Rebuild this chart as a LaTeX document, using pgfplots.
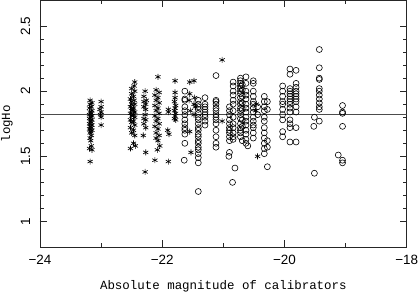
\documentclass[border=0pt]{standalone}
\usepackage{fontspec}
\setmainfont{Liberation Sans}
\newfontfamily\monofont{Liberation Mono}
\usepackage{pgfplots}
\pgfplotsset{compat=1.18}
\newcommand{\tkf}{\fontsize{13.5}{15}\selectfont}
\newcommand{\lbf}{\fontsize{12.5}{15}\selectfont\monofont}
\begin{document}
\begin{tikzpicture}
\begin{axis}[
  at={(0,0)}, anchor=south west,
  scale only axis,
  width=366.7bp, height=247.5bp,
  xmin=-24, xmax=-18, ymin=0.8, ymax=2.7,
  xtick={-24,-22,-20,-18},
  xticklabels={{\tkf −24},{\tkf −22},{\tkf −20},{\tkf −18}},
  ytick={1,1.5,2,2.5},
  yticklabels={{\tkf 1},{\tkf 1.5},{\tkf 2},{\tkf 2.5}},
  minor x tick num=1,
  minor y tick num=4,
  tick align=inside,
  major tick length=7bp,
  minor tick length=4bp,
  axis line style={line width=0.8pt, black!85},
  tick style={line width=0.7pt, black!85},
  xticklabel style={anchor=center, yshift=-12.5bp},
  yticklabel style={anchor=center, xshift=-14.5bp, rotate=90},
  xlabel={\lbf Absolute magnitude of calibrators},
  ylabel={\lbf logHo},
  every axis x label/.style={at={([yshift=-39bp]axis description cs:0.5,0)}, anchor=center},
  every axis y label/.style={at={([xshift=-33bp]axis description cs:0,0.5)}, anchor=center, rotate=90},
]
\addplot[gray!60!black, line width=0.9pt] coordinates {(-24,1.82) (-18,1.82)};
% asterisks
\addplot[only marks, mark=asterisk, mark size=3pt, mark options={line width=0.65pt, black}] coordinates {
(-23.18,1.93) (-23.15,1.91) (-23.18,1.90) (-23.16,1.88) (-23.19,1.87) (-23.15,1.85) (-23.18,1.84) (-23.16,1.83)
(-23.19,1.82) (-23.15,1.81) (-23.17,1.80) (-23.19,1.79) (-23.15,1.78) (-23.18,1.77) (-23.16,1.76) (-23.19,1.75)
(-23.15,1.74) (-23.18,1.73) (-23.16,1.72) (-23.19,1.71) (-23.15,1.70) (-23.17,1.69) (-23.18,1.68) (-23.16,1.66)
(-23.18,1.64) (-23.17,1.62) (-23.16,1.58) (-23.19,1.56) (-23.15,1.55) (-23.18,1.46)
(-23.0,1.92) (-23.0,1.88) (-23.02,1.86) (-23.0,1.84) (-23.01,1.82) (-23.0,1.80) (-23.0,1.74)
(-22.45,2.07) (-22.46,2.04) (-22.5,2.02) (-22.45,2.00) (-22.5,1.98) (-22.47,1.96) (-22.52,1.94) (-22.46,1.93)
(-22.5,1.92) (-22.45,1.90) (-22.52,1.88) (-22.47,1.87) (-22.5,1.85) (-22.45,1.84) (-22.52,1.83) (-22.47,1.82)
(-22.5,1.81) (-22.45,1.80) (-22.52,1.78) (-22.47,1.77) (-22.5,1.76) (-22.45,1.74) (-22.52,1.72) (-22.47,1.70)
(-22.5,1.68) (-22.45,1.66) (-22.47,1.60) (-22.44,1.58) (-22.52,1.56) (-22.5,1.90) (-22.48,1.86)
(-22.28,2.00) (-22.3,1.96) (-22.26,1.93) (-22.3,1.92) (-22.27,1.90) (-22.3,1.88) (-22.27,1.86) (-22.28,1.82)
(-22.3,1.79) (-22.27,1.78) (-22.3,1.75) (-22.27,1.72) (-22.31,1.66) (-22.27,1.53) (-22.28,1.38)
(-22.07,2.11) (-22.1,2.01) (-22.05,1.99) (-22.12,1.97) (-22.07,1.95) (-22.1,1.93) (-22.05,1.91) (-22.12,1.89)
(-22.07,1.87) (-22.1,1.85) (-22.05,1.83) (-22.12,1.81) (-22.07,1.79) (-22.1,1.77) (-22.05,1.75) (-22.12,1.73)
(-22.07,1.71) (-22.1,1.68) (-22.05,1.66) (-22.1,1.64) (-22.07,1.62) (-22.04,1.58) (-22.08,1.55) (-22.12,1.47)
(-21.9,1.86) (-21.9,1.84) (-21.91,1.70) (-21.89,1.67) (-21.9,1.46)
(-21.79,2.08) (-21.79,1.99) (-21.79,1.95) (-21.8,1.92) (-21.78,1.89) (-21.79,1.87) (-21.8,1.85) (-21.78,1.83)
(-21.79,1.81) (-21.8,1.79) (-21.78,1.78)
(-21.55,2.07) (-21.55,1.98) (-21.56,1.93) (-21.54,1.85) (-21.55,1.69) (-21.53,1.53)
(-21.48,2.08) (-21.47,1.95) (-21.48,1.90) (-21.46,1.88) (-21.48,1.82)
(-21.02,2.24) (-21.02,1.77)
(-20.44,1.50) (-20.46,1.90) (-20.47,1.85)
};
% circles
\addplot[only marks, mark=o, mark size=3pt, mark options={line width=0.6pt, black}] coordinates {
(-21.63,2.00) (-21.63,1.94) (-21.63,1.93) (-21.63,1.88) (-21.63,1.85) (-21.63,1.82) (-21.63,1.78) (-21.63,1.75)
(-21.63,1.72) (-21.63,1.70) (-21.63,1.67) (-21.63,1.60) (-21.64,1.47)
(-21.41,1.93) (-21.41,1.90) (-21.41,1.88) (-21.41,1.86) (-21.41,1.83) (-21.41,1.80) (-21.41,1.78) (-21.41,1.75)
(-21.41,1.72) (-21.41,1.70) (-21.41,1.67) (-21.41,1.65) (-21.41,1.62) (-21.41,1.60) (-21.41,1.57) (-21.41,1.55)
(-21.41,1.52) (-21.41,1.49) (-21.41,1.45) (-21.41,1.23)
(-21.30,1.95) (-21.30,1.90) (-21.30,1.88) (-21.30,1.86) (-21.30,1.84) (-21.30,1.82) (-21.30,1.80) (-21.30,1.77)
(-21.30,1.74)
(-21.12,2.12) (-21.12,1.93) (-21.12,1.92) (-21.12,1.90) (-21.12,1.87) (-21.12,1.85) (-21.12,1.82) (-21.12,1.80)
(-21.12,1.78) (-21.12,1.75) (-21.12,1.70) (-21.12,1.65) (-21.12,1.60) (-21.12,1.57)
(-20.90,1.88) (-20.90,1.85) (-20.90,1.82) (-20.90,1.78) (-20.90,1.75) (-20.90,1.72) (-20.90,1.70) (-20.90,1.68)
(-20.90,1.65) (-20.90,1.62) (-20.90,1.53) (-20.91,1.50)
(-20.84,2.07) (-20.84,2.04) (-20.84,2.00) (-20.84,1.97) (-20.84,1.93) (-20.84,1.90) (-20.84,1.85) (-20.84,1.80)
(-20.84,1.75) (-20.84,1.72) (-20.84,1.68) (-20.84,1.65) (-20.84,1.63) (-20.81,1.41) (-20.85,1.30)
(-20.72,2.10) (-20.72,2.08) (-20.72,2.06) (-20.72,2.04) (-20.72,2.02) (-20.72,2.00) (-20.72,1.98) (-20.72,1.95)
(-20.72,1.92) (-20.72,1.90) (-20.72,1.87) (-20.72,1.85) (-20.72,1.82) (-20.72,1.79) (-20.72,1.75) (-20.72,1.72)
(-20.72,1.70) (-20.72,1.68) (-20.72,1.65)
(-20.69,2.05) (-20.69,2.01) (-20.69,1.96) (-20.69,1.91) (-20.69,1.86) (-20.69,1.78) (-20.69,1.73) (-20.69,1.62)
(-20.63,2.11) (-20.63,2.06) (-20.63,2.00) (-20.63,1.97) (-20.63,1.94) (-20.63,1.90) (-20.63,1.87) (-20.63,1.84)
(-20.63,1.80) (-20.63,1.77) (-20.63,1.74) (-20.63,1.70) (-20.63,1.67) (-20.63,1.63) (-20.63,1.60) (-20.60,1.58)
(-20.51,2.08) (-20.51,2.06) (-20.51,2.00) (-20.51,1.96) (-20.51,1.92) (-20.51,1.90) (-20.51,1.87) (-20.51,1.84)
(-20.51,1.80) (-20.51,1.77) (-20.51,1.74) (-20.51,1.72) (-20.51,1.68) (-20.51,1.64)
(-20.44,1.88) (-20.44,1.82)
(-20.33,1.96) (-20.33,1.92) (-20.33,1.88) (-20.33,1.85) (-20.33,1.80) (-20.33,1.77) (-20.33,1.72) (-20.33,1.68)
(-20.33,1.64) (-20.33,1.60) (-20.33,1.56) (-20.33,1.52)
(-20.28,1.92) (-20.28,1.86) (-20.28,1.62) (-20.28,1.57) (-20.28,1.42)
(-20.03,2.04) (-20.03,2.00) (-20.03,1.96) (-20.03,1.92) (-20.03,1.90) (-20.03,1.86) (-20.03,1.82) (-20.03,1.78)
(-20.03,1.69) (-20.03,1.65)
(-19.91,2.17) (-19.91,2.13) (-19.91,2.02) (-19.91,2.00) (-19.91,1.98) (-19.91,1.96) (-19.91,1.94) (-19.91,1.92)
(-19.91,1.90) (-19.91,1.87) (-19.91,1.84) (-19.91,1.78) (-19.91,1.75) (-19.91,1.72) (-19.91,1.61)
(-19.81,2.16) (-19.81,2.06) (-19.81,2.03) (-19.81,2.00) (-19.81,1.98) (-19.81,1.96) (-19.81,1.94) (-19.81,1.92)
(-19.81,1.88) (-19.81,1.84) (-19.81,1.72) (-19.81,1.61)
(-19.51,1.80) (-19.52,1.73) (-19.51,1.37)
(-19.43,2.32) (-19.43,2.18) (-19.43,2.10) (-19.43,2.09) (-19.43,2.02) (-19.43,2.00) (-19.43,1.97) (-19.43,1.94)
(-19.43,1.91) (-19.43,1.88) (-19.43,1.86) (-19.43,1.77)
(-19.12,1.51)
(-19.05,1.89) (-19.05,1.84) (-19.05,1.83) (-19.05,1.73) (-19.05,1.47) (-19.05,1.45)
};
\end{axis}
\pgfresetboundingbox
\path (-40bp,-47.5bp) rectangle (380bp,247.5bp);
\end{tikzpicture}
\end{document}
